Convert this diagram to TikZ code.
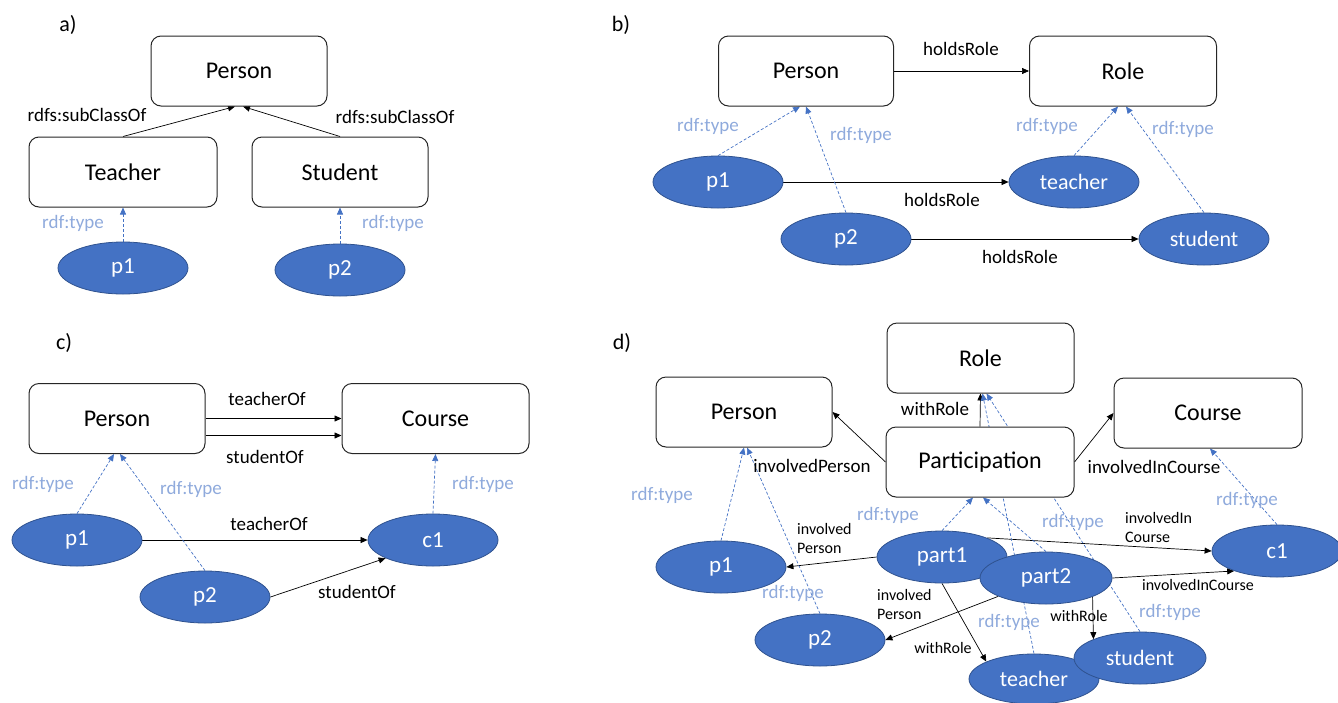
\documentclass[tikz,border=0pt]{standalone}
\usepackage{fontspec}
\setmainfont{Carlito}
\usetikzlibrary{shapes.geometric,arrows.meta}
\definecolor{instfill}{HTML}{4472C4}
\definecolor{instline}{HTML}{2F528F}
\definecolor{typetext}{HTML}{8FAADC}
\definecolor{typeline}{HTML}{4472C4}
\pgfdeclarelayer{edges}
\pgfsetlayers{edges,main}
\tikzset{
  classbox/.style={draw=black!85, fill=white, line width=1pt, rounded corners=10pt,
    minimum width=#1, minimum height=70pt, inner sep=0pt, font=\fontsize{24}{28}\selectfont},
  classbox/.default=176pt,
  inst/.style={ellipse, fill=instfill, draw=instline, line width=0.8pt, text=white,
    minimum width=130pt, minimum height=52pt, inner sep=0pt, font=\fontsize{23}{27}\selectfont},
  instsm/.style={inst, font=\fontsize{22}{26}\selectfont},
  rel/.style={-{Triangle[length=7pt,width=6pt]}, line width=0.7pt, black},
  typ/.style={-{Triangle[length=7pt,width=6pt]}, dash pattern=on 3pt off 2pt,
    line width=0.7pt, typeline},
  lab/.style={font=\fontsize{19}{22}\selectfont, inner sep=0pt},
  slab/.style={font=\fontsize{16}{19}\selectfont, inner sep=0pt, align=left},
  tlab/.style={lab, text=typetext},
  panel/.style={font=\fontsize{22}{26}\selectfont, inner sep=0pt}
}
\begin{document}
\begin{tikzpicture}[x=1pt,y=-1pt]
\useasboundingbox (0,0) rectangle (1338,702);

% ---------------- a) class hierarchy ----------------
\node[panel] (la) at (68,25) {a)};
\node[classbox] (PersonA) at (239,71) {Person};
\node[classbox=188pt] (TeacherA) at (123,172) {Teacher};
\node[classbox] (StudentA) at (340,172) {Student};
\node[inst] (p1A) at (123,268) {p1};
\node[inst] (p2A) at (340,270) {p2};
\begin{pgfonlayer}{edges}
\draw[rel] (TeacherA.north) -- ([xshift=-4pt]PersonA.south);
\draw[rel] (StudentA.north) -- ([xshift=4pt]PersonA.south);
\draw[typ] (p1A.north) -- (TeacherA.south);
\draw[typ] (p2A.north) -- (StudentA.south);
\end{pgfonlayer}
\node[lab] (sa1) at (87,115) {rdfs:subClassOf};
\node[lab] (sa2) at (395,117) {rdfs:subClassOf};
\node[tlab] (ta1) at (73,223) {rdf:type};
\node[tlab] (ta2) at (393,223) {rdf:type};

% ---------------- b) roles as instances ----------------
\node[panel] (lb) at (621,25) {b)};
\node[classbox=175pt] (PersonB) at (806,71) {Person};
\node[classbox=187pt] (RoleB) at (1123,71) {Role};
\node[inst] (p1B) at (718,182) {p1};
\node[instsm] (teacherB) at (1074,182) {teacher};
\node[inst] (p2B) at (846,239) {p2};
\node[instsm] (studentB) at (1204,239) {student};
\begin{pgfonlayer}{edges}
\draw[rel] (PersonB.east) -- (RoleB.west);
\draw[rel] (p1B) -- (teacherB);
\draw[rel] (p2B) -- (studentB);
\draw[typ] (p1B.north) -- ([xshift=-6pt]PersonB.south);
\draw[typ] (p2B.north) -- (PersonB.south);
\draw[typ] (teacherB.north) -- ([xshift=-5pt]RoleB.south);
\draw[typ] (studentB.north) -- ([xshift=3pt]RoleB.south);
\end{pgfonlayer}
\node[lab] (hb1) at (961,49) {holdsRole};
\node[lab] (hb2) at (942,200) {holdsRole};
\node[lab] (hb3) at (1020,257) {holdsRole};
\node[tlab] (tb1) at (708,126) {rdf:type};
\node[tlab] (tb2) at (861,135) {rdf:type};
\node[tlab] (tb3) at (1047,126) {rdf:type};
\node[tlab] (tb4) at (1183,129) {rdf:type};

% ---------------- c) properties to the course ----------------
\node[panel] (lc) at (64,343) {c)};
\node[classbox=176pt] (PersonC) at (117,418.5) {Person};
\node[classbox=187pt] (CourseC) at (435.5,418.5) {Course};
\node[inst] (p1C) at (77,540) {p1};
\node[inst] (c1C) at (433,540) {c1};
\node[inst] (p2C) at (205,597) {p2};
\begin{pgfonlayer}{edges}
\draw[rel] (PersonC.east) -- (CourseC.west);
\draw[rel] ([yshift=-17pt]PersonC.east) -- ([yshift=-17pt]CourseC.west);
\draw[rel] (p1C) -- (c1C);
\draw[rel] (p2C.east) -- (c1C.201);
\draw[typ] (p1C.north) -- ([xshift=-3pt]PersonC.south);
\draw[typ] (p2C.north) -- ([xshift=3pt]PersonC.south);
\draw[typ] (c1C.north) -- (CourseC.south);
\end{pgfonlayer}
\node[lab] (tc1) at (267,399) {teacherOf};
\node[lab] (sc1) at (265,457) {studentOf};
\node[lab] (tc2) at (269,524) {teacherOf};
\node[lab] (sc2) at (357,592) {studentOf};
\node[tlab] (rc1) at (43,484) {rdf:type};
\node[tlab] (rc2) at (191,489) {rdf:type};
\node[tlab] (rc3) at (483,484) {rdf:type};

% ---------------- d) reified participation ----------------
\node[panel] (ld) at (622,343) {d)};
\node[classbox=187pt] (RoleD) at (980.5,358) {Role};
\node[classbox=176pt] (PersonD) at (744,412) {Person};
\node[classbox=188pt] (CourseD) at (1208,413) {Course};
\node[classbox=188pt] (PartD) at (980,462) {Participation};
\node[inst] (p1D) at (721,567) {p1};
\node[inst] (p2D) at (820,640) {p2};
\node[inst] (c1D) at (1277,551) {c1};
\node[inst] (part1) at (942,557) {part1};
\node[inst, minimum width=132pt] (part2) at (1046,578) {part2};
\node[instsm, minimum height=50pt] (teacherD) at (1034,679) {teacher};
\node[instsm, minimum width=132pt] (studentD) at (1140,658) {student};
\begin{pgfonlayer}{edges}
\draw[rel] (PartD.north) -- (RoleD.south);
\draw[rel] (PartD.west) -- (PersonD.east);
\draw[rel] (PartD.east) -- (CourseD.west);
\draw[rel] (part1.west) -- (p1D.east);
\draw[rel] (part2.201) -- (p2D.east);
\draw[rel] (part1.23) -- (c1D.west);
\draw[rel] (part2.east) -- (c1D.205);
\draw[rel] (part1.south) -- (teacherD.160);
\draw[rel] (part2.-22) -- (studentD.158);
\draw[typ] (p1D.north) -- (PersonD.south);
\draw[typ] (p2D.north) -- ([xshift=3pt]PersonD.south);
\draw[typ] (part1.north) -- ([xshift=-7pt]PartD.south);
\draw[typ] (part2.north) -- ([xshift=3pt]PartD.south);
\draw[typ] (teacherD.north) -- ([xshift=2pt]RoleD.south);
\draw[typ] (studentD.north) -- ([xshift=6pt]RoleD.south);
\draw[typ] (c1D.north) -- ([xshift=2pt]CourseD.south);
\end{pgfonlayer}
\node[lab] (wd1) at (935,409) {withRole};
\node[lab] (ipd) at (812,466) {involvedPerson};
\node[lab] (icd) at (1154,467) {involvedInCourse};
\node[slab, anchor=west] (ipd1) at (797,538) {involved\\Person};
\node[slab, anchor=west] (ipd2) at (877,604) {involved\\Person};
\node[slab, anchor=west] (icd1) at (1125,527) {involvedIn\\Course};
\node[slab] (icd2) at (1198,585) {involvedInCourse};
\node[slab] (wd2) at (943,648) {withRole};
\node[slab] (wd3) at (1079,616) {withRole};
\node[tlab] (rd1) at (662,495) {rdf:type};
\node[tlab] (rd2) at (793,593) {rdf:type};
\node[tlab] (rd3) at (888,515) {rdf:type};
\node[tlab] (rd4) at (1073,522) {rdf:type};
\node[tlab] (rd5) at (1009,622) {rdf:type};
\node[tlab] (rd6) at (1170,612) {rdf:type};
\node[tlab] (rd7) at (1247,500) {rdf:type};
\end{tikzpicture}
\end{document}
